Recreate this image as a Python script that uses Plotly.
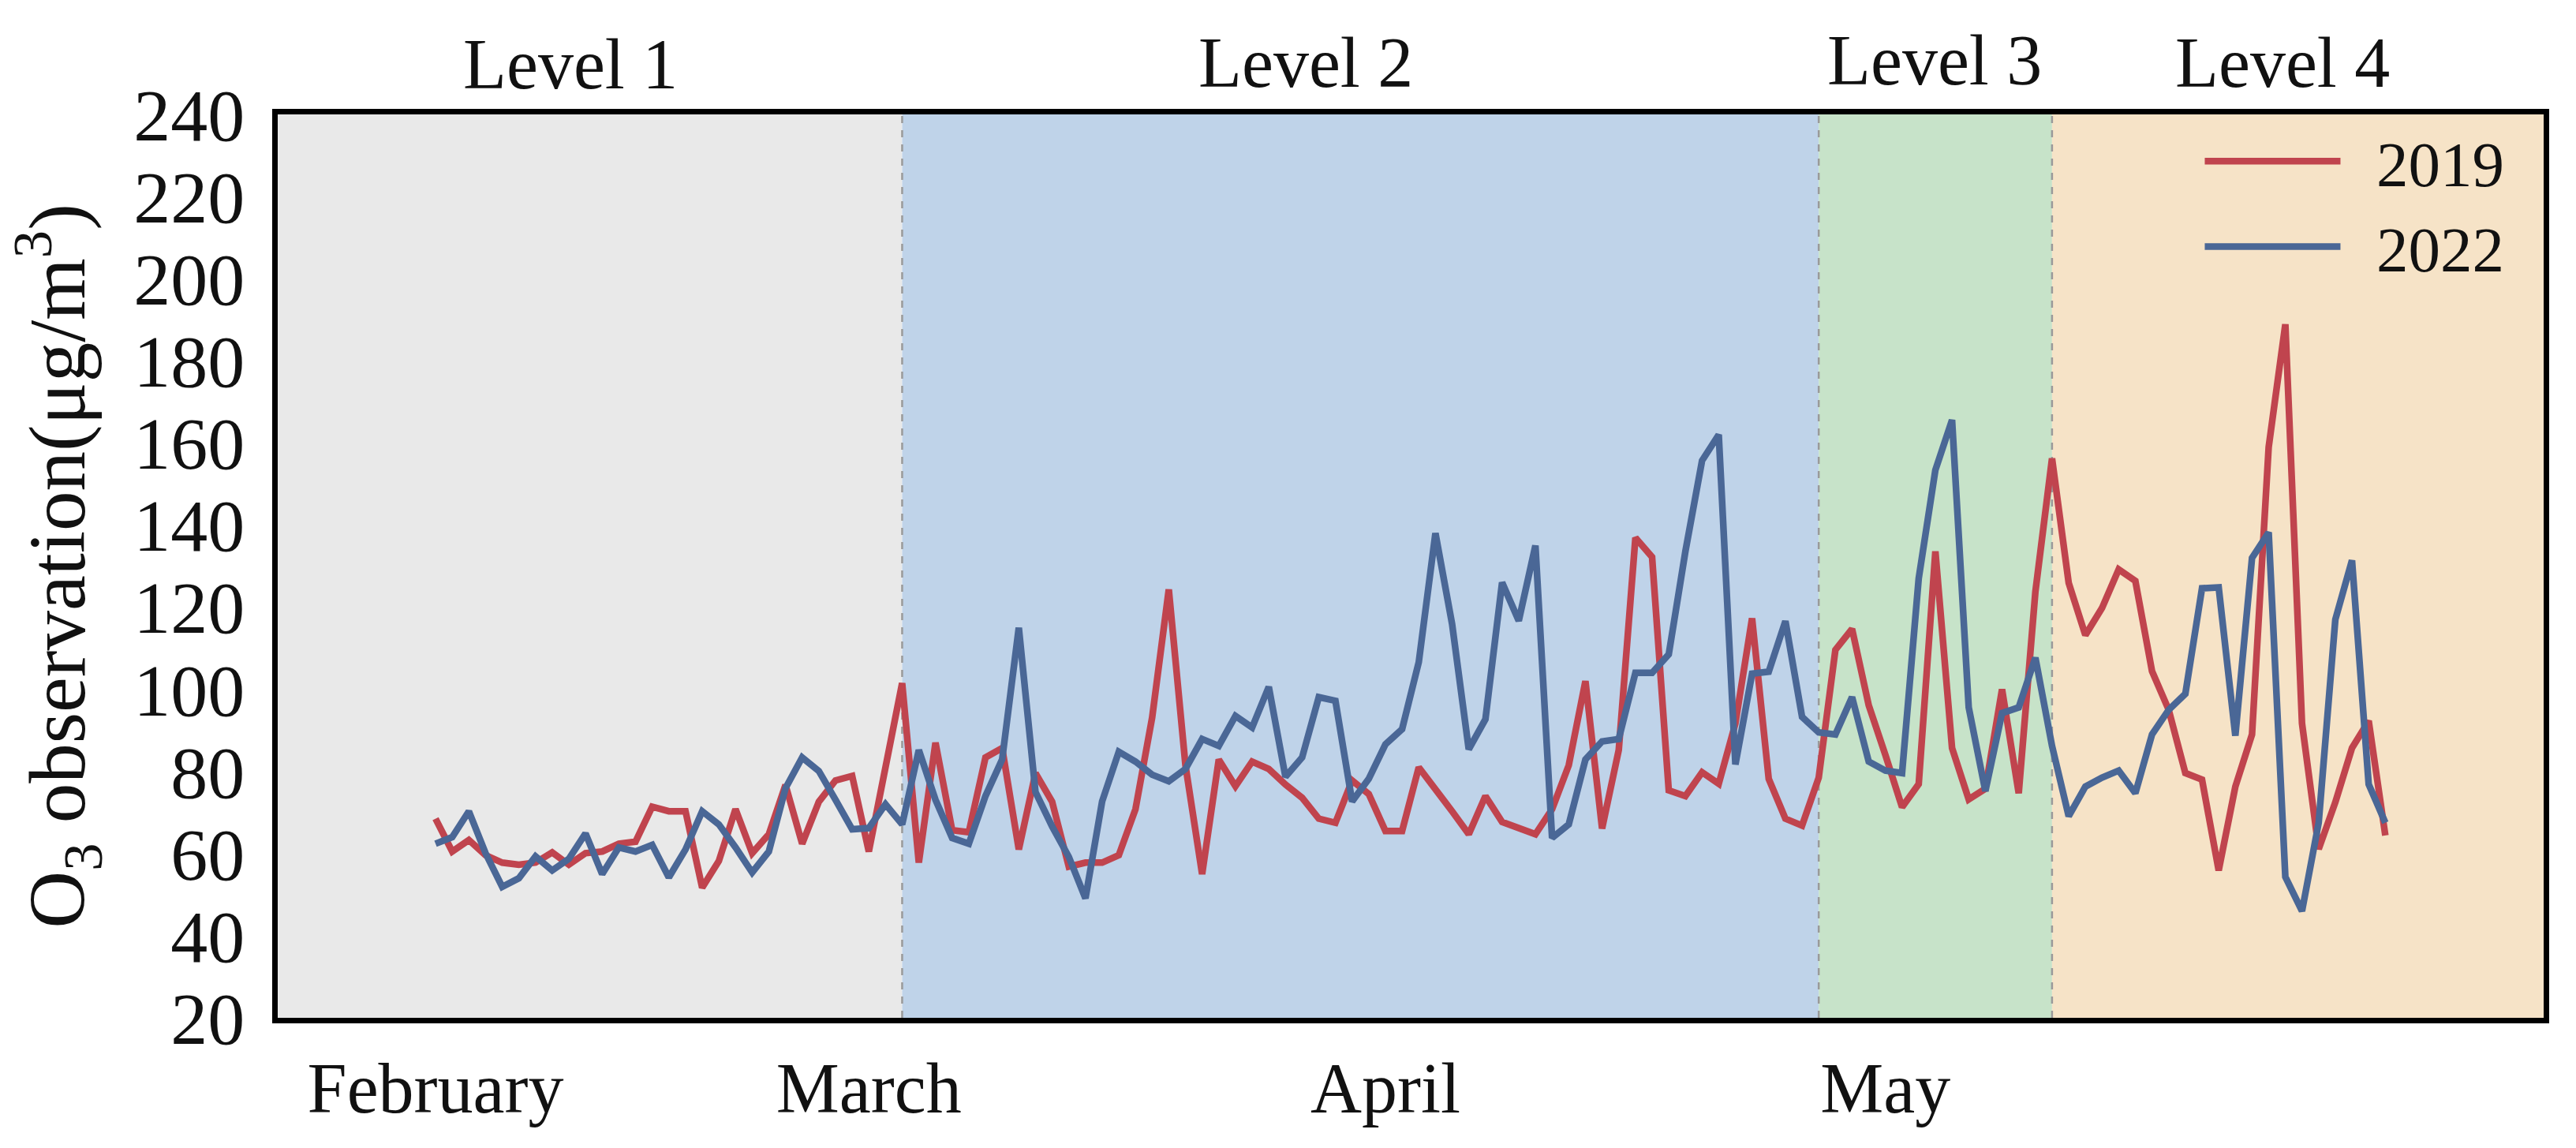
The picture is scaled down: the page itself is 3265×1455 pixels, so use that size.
import plotly.graph_objects as go

# O3 observation, one value per day starting 1 February
o3_2019 = [68.5, 60.5, 63.3, 59.6, 57.8, 57.3, 57.8, 60.3, 57.3, 60.1,
           60.5, 62.4, 62.9, 71.4, 70.3, 70.3, 51.7, 58.2, 70.8, 60.1,
           64.7, 76.7, 62.4, 72.6, 77.8, 78.9, 60.5, 80.5, 101.5, 57.8,
           87.0, 65.7, 65.2, 83.4, 85.7, 61.0, 79.6, 72.6, 56.8, 57.8,
           57.8, 59.6, 70.8, 93.1, 124.3, 81.5, 55.0, 82.9, 76.4, 82.4,
           80.6, 76.8, 73.6, 68.5, 67.5, 77.8, 74.5, 65.5, 65.5, 81.0,
           75.9, 70.3, 64.7, 74.0, 67.7, 66.1, 64.7, 70.8, 81.5, 102.0,
           66.1, 85.2, 136.9, 132.2, 75.4, 74.0, 79.8, 77.0, 91.7, 117.3,
           78.2, 68.5, 66.8, 78.5, 109.6, 114.7, 96.1, 84.0, 71.3, 76.9,
           133.6, 85.7, 73.2, 75.8, 100.0, 74.7, 123.7, 156.2, 125.9, 113.2,
           119.8, 129.2, 126.4, 104.4, 95.0, 79.6, 78.0, 55.9, 76.3, 89.0,
           159.0, 188.9, 91.7, 61.1, 72.5, 85.7, 92.3, 64.4]
o3_2022 = [62.4, 64.0, 70.3, 60.1, 51.9, 54.0, 59.3, 55.9, 58.7, 64.9,
           55.0, 61.5, 60.5, 62.1, 54.2, 61.0, 70.3, 67.1, 61.5, 55.4,
           60.5, 75.9, 83.4, 80.1, 73.1, 65.9, 66.2, 72.0, 67.1, 85.2,
           73.1, 63.8, 62.4, 74.0, 82.9, 115.0, 75.0, 66.6, 59.2, 49.1,
           72.7, 84.8, 82.4, 79.2, 77.6, 80.6, 87.9, 86.2, 93.5, 90.7,
           100.6, 78.7, 83.4, 98.1, 97.2, 72.7, 78.2, 86.6, 90.3, 106.6,
           138.0, 115.9, 85.4, 92.7, 126.0, 116.7, 135.0, 63.8, 67.1, 82.9,
           87.3, 87.9, 104.0, 104.0, 108.5, 133.6, 155.7, 162.0, 81.7, 103.8,
           104.3, 116.6, 93.3, 89.5, 89.0, 98.1, 82.4, 80.2, 79.6, 127.0,
           153.4, 165.6, 95.6, 75.2, 94.2, 95.6, 107.7, 86.2, 69.1, 76.3,
           78.5, 80.2, 74.7, 89.0, 95.0, 98.9, 124.6, 124.8, 88.7, 132.0,
           138.2, 54.3, 46.0, 67.5, 117.0, 131.4, 76.9, 67.5]
days = list(range(len(o3_2019)))

month_names = ["February", "March", "April", "May"]
month_pos = [0, 26, 57, 87]
level_names = ["Level 1", "Level 2", "Level 3", "Level 4"]
level_pos = [8.1, 52.2, 89.95, 110.85]
level_y = [1.1, 1.102, 1.105, 1.102]
level_edges = [-9.47, 28, 83, 97, 126.5]
level_colors = ["#E9E9E9", "#BFD3E9", "#C7E3C9", "#F6E3C7"]
y_ticks = list(range(20, 241, 20))

FONT = "Liberation Serif"

fig = go.Figure()

# coloured band behind each level
for i in range(4):
    fig.add_shape(type="rect", xref="x", yref="paper",
                  x0=level_edges[i], x1=level_edges[i + 1], y0=0, y1=1,
                  fillcolor=level_colors[i], line_width=0, layer="below")
for edge in level_edges[1:4]:
    fig.add_shape(type="line", xref="x", yref="paper", x0=edge, x1=edge, y0=0, y1=1,
                  line=dict(color="#9A9A9A", width=2.5, dash="dash"), layer="below")

# the nbsp pushes the legend text away from its line
fig.add_trace(go.Scatter(x=days, y=o3_2019, mode="lines", name="\u00a0\u00a02019",
                         line=dict(color="#C0444E", width=8.5)))
fig.add_trace(go.Scatter(x=days, y=o3_2022, mode="lines", name="\u00a0\u00a02022",
                         line=dict(color="#4A6796", width=8.5)))

for name, pos, y in zip(level_names, level_pos, level_y):
    fig.add_annotation(text=name, x=pos, xref="x", y=y, yref="paper", showarrow=False,
                       font=dict(family=FONT, size=90, color="#111111"))

fig.update_layout(
    width=3265, height=1455,
    margin=dict(l=352, r=41, t=145, b=165),
    paper_bgcolor="white", plot_bgcolor="white",
    font=dict(family=FONT, color="#111111"),
    legend=dict(x=0.8487, y=1.0, xanchor="left", yanchor="top", bgcolor="rgba(0,0,0,0)",
                itemwidth=172, font=dict(size=81), tracegroupgap=0),
)
fig.update_xaxes(range=[level_edges[0], level_edges[-1]], tickvals=month_pos, ticktext=month_names,
                 showgrid=False, zeroline=False, showline=True, mirror=True,
                 linecolor="black", linewidth=7, ticks="outside", ticklen=5,
                 tickcolor="rgba(0,0,0,0)", tickfont=dict(size=90))
fig.update_yaxes(range=[20, 240], tickvals=y_ticks,
                 showgrid=False, zeroline=False, showline=True, mirror=True,
                 linecolor="black", linewidth=7, ticks="outside", ticklen=16,
                 tickcolor="rgba(0,0,0,0)", tickfont=dict(size=94),
                 title=dict(text="O<sub>3</sub> observation(μg/m<sup>3</sup>)",
                            font=dict(size=101), standoff=30))

fig.write_html("out.html", config={"displayModeBar": False}, post_script="document.body.style.margin='0';")
